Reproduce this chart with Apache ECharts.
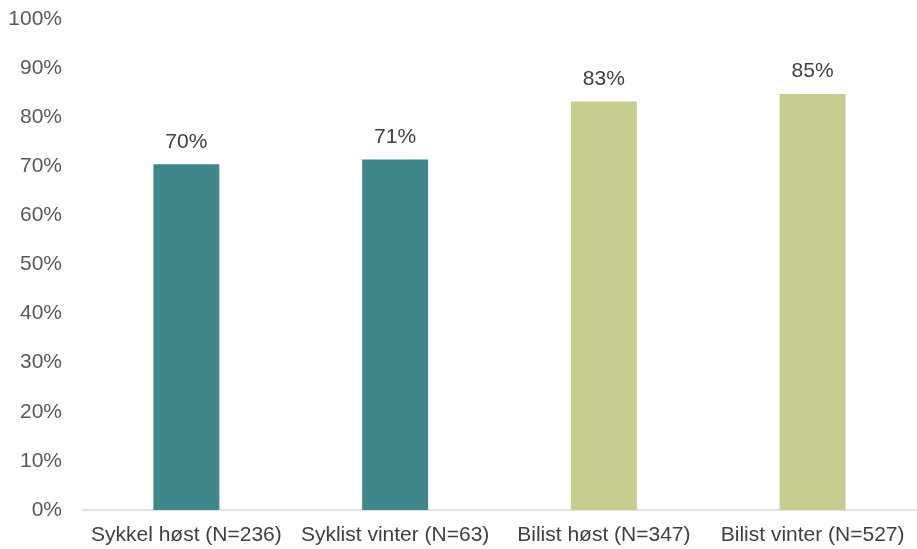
<!DOCTYPE html>
<html>
<head>
<meta charset="utf-8">
<script src="https://cdn.jsdelivr.net/npm/echarts@6/dist/echarts.min.js"></script>
<style>html,body{margin:0;padding:0;background:#fff;}#c{width:917px;height:549px;}</style>
</head>
<body>
<div id="c"></div>
<script>
const categories = ['Sykkel høst (N=236)', 'Syklist vinter (N=63)', 'Bilist høst (N=347)', 'Bilist vinter (N=527)'];
const values = [70.4, 71.4, 83.2, 84.7];
const barColors = ['#40878B', '#40878B', '#C6CD8F', '#C6CD8F'];

const chart = echarts.init(document.getElementById('c'));
chart.setOption({
  animation: false,
  backgroundColor: '#ffffff',
  textStyle: { fontFamily: 'Liberation Sans, Arial, sans-serif' },
  grid: { left: 82, right: 0, top: 19, bottom: 39 },
  xAxis: {
    type: 'category',
    data: categories,
    axisLine: { lineStyle: { color: '#D9D9D9', width: 1.5 } },
    axisTick: { show: false },
    axisLabel: { color: '#404040', fontSize: 21, margin: 15, interval: 0 }
  },
  yAxis: {
    type: 'value',
    min: 0, max: 100, interval: 10,
    splitLine: { show: false },
    axisLine: { show: false },
    axisTick: { show: false },
    axisLabel: { color: '#595959', fontSize: 21, margin: 20, formatter: v => v + '%' }
  },
  series: [{
    type: 'bar',
    barWidth: '31.6%',
    data: values.map((v, i) => ({ value: v, itemStyle: { color: barColors[i] } })),
    label: {
      show: true,
      position: 'top',
      distance: 12,
      color: '#404040',
      fontSize: 21,
      formatter: p => Math.round(p.value) + '%'
    }
  }]
});
</script>
</body>
</html>
